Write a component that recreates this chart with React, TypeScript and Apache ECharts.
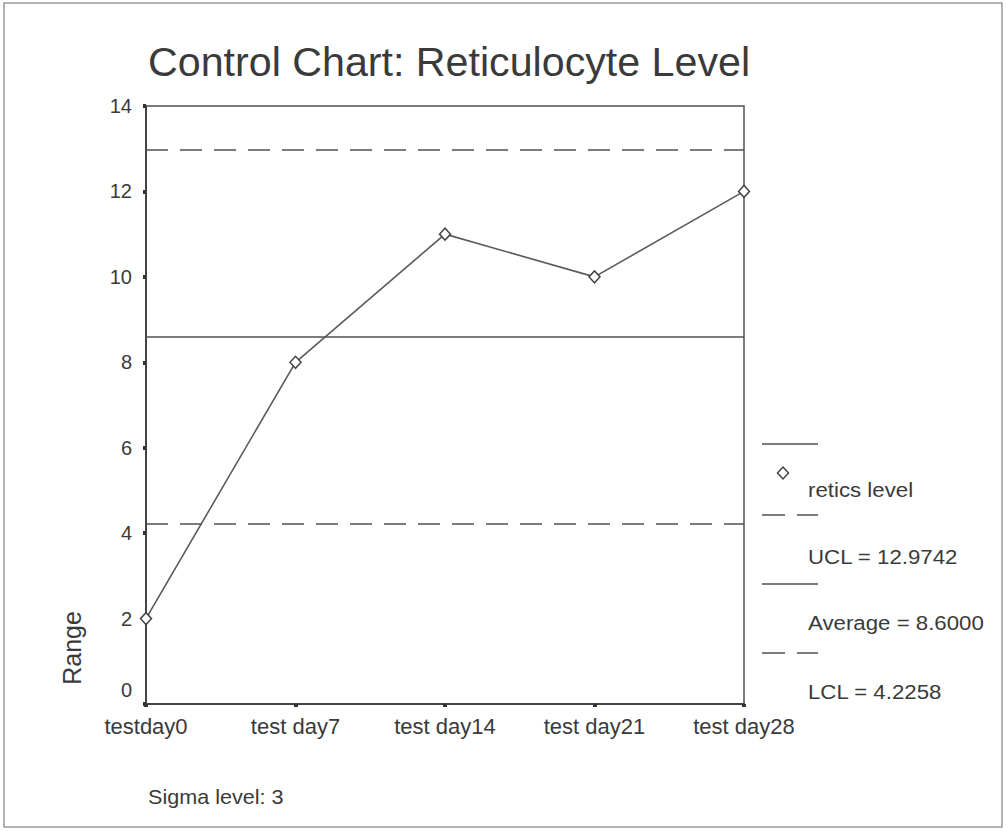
import React, { useEffect, useRef } from "react";
import * as echarts from "echarts";

const categories = ["testday0", "test day7", "test day14", "test day21", "test day28"];
const reticsLevel = [2, 8, 11, 10, 12];
const ucl = 12.9742;
const average = 8.6;
const lcl = 4.2258;
const legendLabels = ["retics level", "UCL = 12.9742", "Average = 8.6000", "LCL = 4.2258"];

const FONT = "'Liberation Sans', Arial, sans-serif";
const TEXT = "#3a3a3a";
const LINE = "#505050";

export default function App() {
  const ref = useRef<HTMLDivElement>(null);
  useEffect(() => {
    if (!ref.current) return;
    const chart = echarts.init(ref.current, undefined, { renderer: "svg" });
    const dash = [22, 12];
    const legendText = (text: string, y: number) => ({
      type: "text", x: 808, y, scaleX: 1.06,
      style: { text, fill: TEXT, font: `21px ${FONT}`, textVerticalAlign: "middle" },
    });
    chart.setOption({
      animation: false,
      backgroundColor: "#fff",
      textStyle: { fontFamily: FONT },
      grid: {
        left: 146, top: 106, width: 598, height: 598,
        show: true, borderColor: LINE, borderWidth: 1.5, backgroundColor: "transparent",
      },
      xAxis: {
        type: "category",
        data: categories,
        boundaryGap: false,
        axisLine: { lineStyle: { color: "#444", width: 2 } },
        axisTick: { show: true, length: 3, inside: false, lineStyle: { color: "#333", width: 4 } },
        axisLabel: { color: TEXT, fontSize: 22, fontFamily: FONT, margin: 11 },
        splitLine: { show: false },
      },
      yAxis: {
        type: "value",
        min: 0, max: 14, interval: 2,
        axisLine: { show: true, lineStyle: { color: "#444", width: 2 } },
        axisTick: { show: true, length: 3, lineStyle: { color: "#333", width: 4 } },
        axisLabel: {
          color: TEXT, fontSize: 20, fontFamily: FONT, margin: 14,
          formatter: (v: number) => (v === 0 ? "{z|0}" : String(v)),
          rich: { z: { color: TEXT, fontSize: 20, fontFamily: FONT, padding: [0, 0, 28, 0] } },
        },
        splitLine: { show: false },
      },
      series: [
        {
          name: "retics level",
          type: "line",
          data: reticsLevel,
          symbol: "diamond",
          symbolSize: [11, 12],
          lineStyle: { color: "#5a5a5a", width: 1.6 },
          itemStyle: { color: "#fff", borderColor: "#444", borderWidth: 1.5 },
          markLine: {
            silent: true,
            symbol: "none",
            label: { show: false },
            data: [
              { yAxis: ucl, lineStyle: { color: LINE, width: 1.6, type: dash } },
              { yAxis: average, lineStyle: { color: LINE, width: 1.6, type: "solid" } },
              { yAxis: lcl, lineStyle: { color: LINE, width: 1.6, type: dash } },
            ],
          },
        },
      ],
      graphic: [
        { type: "rect", shape: { x: 4, y: 3, width: 998, height: 824 }, style: { fill: "none", stroke: "#9a9a9a", lineWidth: 1.5 }, z: 0 },
        { type: "text", x: 148, y: 62, scaleX: 1.03, style: { text: "Control Chart: Reticulocyte Level", fill: TEXT, font: `40px ${FONT}`, textVerticalAlign: "middle" } },
        { type: "text", x: 72, y: 648, rotation: Math.PI / 2, style: { text: "Range", fill: TEXT, font: `25px ${FONT}`, textAlign: "center", textVerticalAlign: "middle" } },
        { type: "text", x: 148, y: 797, scaleX: 1.08, style: { text: "Sigma level: 3", fill: TEXT, font: `20px ${FONT}`, textVerticalAlign: "middle" } },
        // legend
        { type: "line", shape: { x1: 762, y1: 444, x2: 818, y2: 444 }, style: { stroke: LINE, lineWidth: 1.6 } },
        { type: "polygon", shape: { points: [[783, 467], [788.5, 473], [783, 479], [777.5, 473]] }, style: { fill: "#fff", stroke: "#444", lineWidth: 1.5 } },
        legendText(legendLabels[0], 490),
        { type: "line", shape: { x1: 762, y1: 515, x2: 818, y2: 515 }, style: { stroke: LINE, lineWidth: 1.6, lineDash: [23, 12] } },
        legendText(legendLabels[1], 557),
        { type: "line", shape: { x1: 762, y1: 584, x2: 818, y2: 584 }, style: { stroke: LINE, lineWidth: 1.6 } },
        legendText(legendLabels[2], 623),
        { type: "line", shape: { x1: 762, y1: 653, x2: 818, y2: 653 }, style: { stroke: LINE, lineWidth: 1.6, lineDash: [23, 12] } },
        legendText(legendLabels[3], 692),
      ],
    });
    return () => chart.dispose();
  }, []);
  return <div ref={ref} style={{ position: "absolute", left: 0, top: 0, width: 1006, height: 831 }} />;
}
